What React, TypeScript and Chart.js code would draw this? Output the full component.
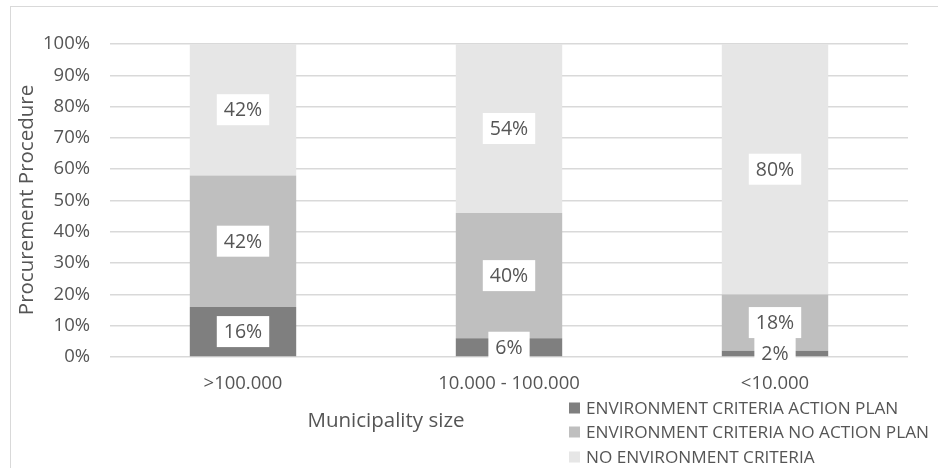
import React, { useEffect, useRef } from "react";
import { Chart, registerables } from "chart.js";

Chart.register(...registerables);

const categories = [">100.000", "10.000 - 100.000", "<10.000"];
const seriesNames = [
  "ENVIRONMENT CRITERIA ACTION PLAN",
  "ENVIRONMENT CRITERIA NO ACTION PLAN",
  "NO ENVIRONMENT CRITERIA",
];
const actionPlan = [16, 6, 2];
const noActionPlan = [42, 40, 18];
const noCriteria = [42, 54, 80];
const seriesColors = ["#7f7f7f", "#bfbfbf", "#e6e6e6"];
const yTitle = "Procurement Procedure";
const xTitle = "Municipality size";

const FONT = "'Open Sans', 'DejaVu Sans', sans-serif";
const TEXT = "#555555";

const decorPlugin = {
  id: "decor",
  beforeDraw(chart: any) {
    const ctx = chart.ctx;
    ctx.save();
    ctx.fillStyle = "#ffffff";
    ctx.fillRect(0, 0, chart.width, chart.height);
    ctx.strokeStyle = "#d9d9d9";
    ctx.lineWidth = 1;
    ctx.beginPath();
    ctx.moveTo(10.5, 6);
    ctx.lineTo(10.5, chart.height);
    ctx.moveTo(10, 6.5);
    ctx.lineTo(chart.width, 6.5);
    ctx.stroke();
    ctx.restore();
  },
  afterDatasetsDraw(chart: any) {
    const ctx = chart.ctx;
    ctx.save();
    ctx.font = `19.5px ${FONT}`;
    ctx.textAlign = "center";
    ctx.textBaseline = "middle";
    chart.data.datasets.forEach((ds: any, di: number) => {
      const meta = chart.getDatasetMeta(di);
      meta.data.forEach((el: any, i: number) => {
        const v = ds.data[i];
        const label = `${v}%`;
        const cx = el.x;
        const cy = (el.y + el.base) / 2;
        const w = ctx.measureText(label).width + 14;
        const h = 31;
        ctx.fillStyle = "#ffffff";
        ctx.fillRect(cx - w / 2, cy - h / 2, w, h);
        ctx.fillStyle = TEXT;
        ctx.fillText(label, cx, cy + 1);
      });
    });
    ctx.restore();
  },
  afterDraw(chart: any) {
    const ctx = chart.ctx;
    ctx.save();
    ctx.fillStyle = TEXT;
    ctx.font = `20.5px ${FONT}`;
    ctx.textAlign = "center";
    ctx.textBaseline = "middle";
    ctx.save();
    ctx.translate(27, 200);
    ctx.rotate(-Math.PI / 2);
    ctx.fillText(yTitle, 0, 0);
    ctx.restore();
    ctx.fillText(xTitle, 386, 421);
    ctx.font = `17.2px ${FONT}`;
    ctx.textAlign = "left";
    const rows = [408, 432, 457];
    seriesNames.forEach((name, i) => {
      ctx.fillStyle = seriesColors[i];
      ctx.fillRect(569, rows[i] - 5.5, 11, 11);
      ctx.fillStyle = TEXT;
      ctx.fillText(name, 586, rows[i] + 1);
    });
    ctx.restore();
  },
};

export default function App() {
  const ref = useRef<HTMLCanvasElement | null>(null);
  useEffect(() => {
    if (!ref.current) return;
    const chart = new Chart(ref.current, {
      type: "bar",
      data: {
        labels: categories,
        datasets: [
          { label: seriesNames[0], data: actionPlan, backgroundColor: seriesColors[0] },
          { label: seriesNames[1], data: noActionPlan, backgroundColor: seriesColors[1] },
          { label: seriesNames[2], data: noCriteria, backgroundColor: seriesColors[2] },
        ],
      },
      options: {
        animation: false,
        responsive: false,
        devicePixelRatio: 1,
        datasets: { bar: { categoryPercentage: 1, barPercentage: 0.4 } },
        layout: { padding: { left: 0, right: 30, top: 44, bottom: 71 } },
        plugins: { legend: { display: false }, tooltip: { enabled: false } },
        scales: {
          x: {
            stacked: true,
            grid: { display: false, drawTicks: false },
            border: { display: false },
            ticks: { color: TEXT, font: { family: FONT, size: 18.5 }, padding: 16, maxRotation: 0 },
            afterFit: (s: any) => {
              s.height = 40;
            },
          },
          y: {
            stacked: true,
            min: 0,
            max: 100,
            ticks: {
              stepSize: 10,
              color: TEXT,
              font: { family: FONT, size: 18.5 },
              padding: 20,
              callback: (v: any) => `${v}%`,
            },
            grid: { color: "#d9d9d9", lineWidth: 1.5, drawTicks: false },
            border: { display: false },
            afterFit: (s: any) => {
              s.width = 110;
            },
          },
        },
      },
      plugins: [decorPlugin],
    });
    return () => chart.destroy();
  }, []);
  return (
    <div style={{ position: "fixed", left: 0, top: 0, width: 938, height: 468, background: "#fff" }}>
      <canvas ref={ref} width={938} height={468} style={{ display: "block", width: 938, height: 468 }} />
    </div>
  );
}
